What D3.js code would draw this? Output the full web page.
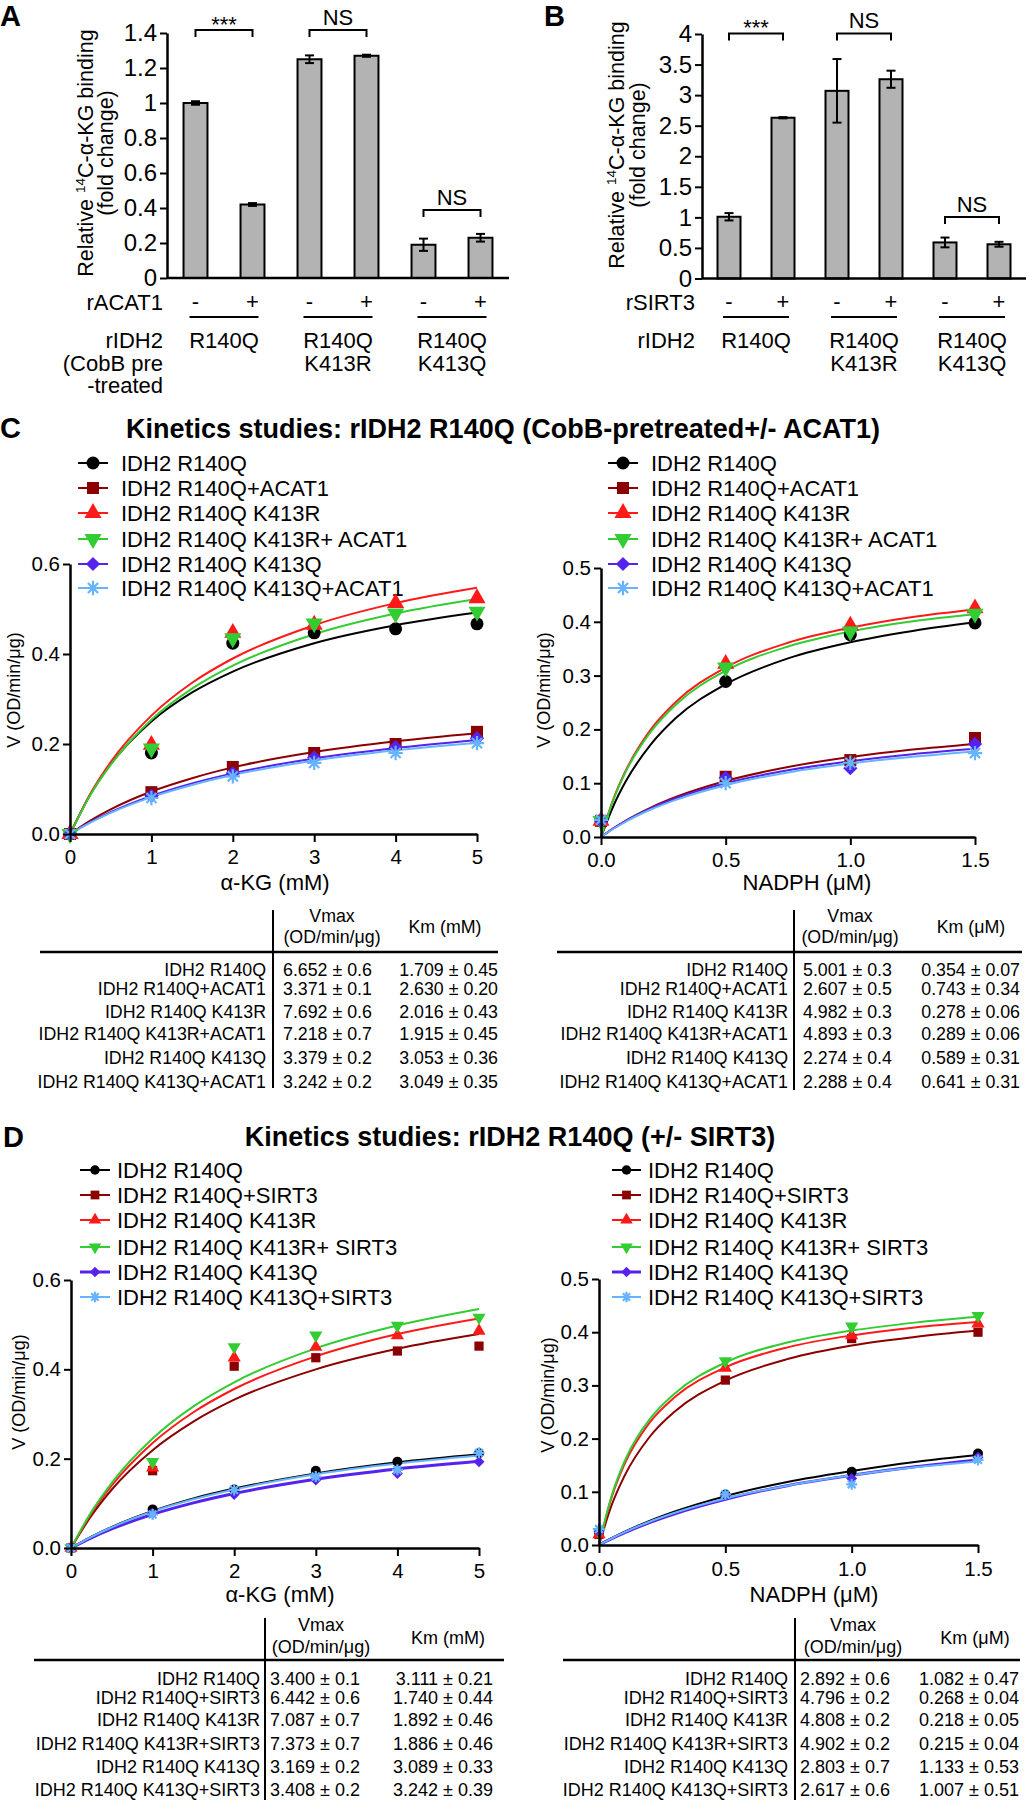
<!DOCTYPE html>
<html><head><meta charset="utf-8">
<script src="https://cdn.jsdelivr.net/npm/d3@7"></script>
<style>body{margin:0;background:#fff}svg{display:block;font-family:Arial,"Liberation Sans",Helvetica,sans-serif}</style>
</head><body><svg id="fig" width="1027" height="1800"></svg>
<script>
// ---------------- DATA ----------------
const barCats = ["R140Q-","R140Q+","K413R-","K413R+","K413Q-","K413Q+"];
const barSigns = ["-","+","-","+","-","+"];
const barGroupLabels = [["R140Q"],["R140Q","K413R"],["R140Q","K413Q"]];
const valsA = [1.00, 0.42, 1.25, 1.27, 0.19, 0.23];
const errA  = [0.01, 0.008, 0.022, 0.006, 0.035, 0.022];
const valsB = [1.01, 2.63, 3.07, 3.26, 0.59, 0.56];
const errB  = [0.06, 0.01, 0.52, 0.14, 0.08, 0.04];
const yTicksA = [0,0.2,0.4,0.6,0.8,1.0,1.2,1.4];
const yTickLabelsA = ["0","0.2","0.4","0.6","0.8","1","1.2","1.4"];
const yTicksB = [0,0.5,1,1.5,2,2.5,3,3.5,4];
const yTickLabelsB = ["0","0.5","1","1.5","2","2.5","3","3.5","4"];
const sigPairs = [[0,1],[2,3],[4,5]];
const sigTexts = ["***","NS","NS"];
const sigLevelsA = [1.417, 1.417, 0.389];
const sigLevelsB = [4.01, 4.01, 1.005];

const seriesC = ["IDH2 R140Q","IDH2 R140Q+ACAT1","IDH2 R140Q K413R","IDH2 R140Q K413R+ ACAT1","IDH2 R140Q K413Q","IDH2 R140Q K413Q+ACAT1"];
const seriesD = ["IDH2 R140Q","IDH2 R140Q+SIRT3","IDH2 R140Q K413R","IDH2 R140Q K413R+ SIRT3","IDH2 R140Q K413Q","IDH2 R140Q K413Q+SIRT3"];
const seriesColors = ["#000000","#8b0000","#ff1a1a","#33cc33","#5522ee","#66b3ff"];
const seriesMarkers = ["circle","square","tri","tridown","diamond","star"];

const kgX = [0,1,2,3,4,5];
const kgTicks = [0,1,2,3,4,5];
const kgTickLabels = ["0","1","2","3","4","5"];
const nadX = [0,0.5,1,1.5];
const nadTicks = [0,0.5,1,1.5];
const nadTickLabels = ["0.0","0.5","1.0","1.5"];
const kgCurveX = [0,0.25,0.5,1,1.5,2,3,4,5];
const nadCurveX = [0,0.05,0.1,0.2,0.3,0.5,0.75,1,1.25,1.5];
const vTicks6 = [0,0.2,0.4,0.6];
const vTickLabels6 = ["0.0","0.2","0.4","0.6"];
const vTicks5 = [0,0.1,0.2,0.3,0.4,0.5];
const vTickLabels5 = ["0.0","0.1","0.2","0.3","0.4","0.5"];

// Panel C, alpha-KG: measured points
const cKgPts = [
  [0, 0.18, 0.424, 0.447, 0.456, 0.467],
  [0, 0.093, 0.149, 0.18, 0.2, 0.227],
  [0, 0.198, 0.447, 0.465, 0.513, 0.524],
  [0, 0.19, 0.435, 0.468, 0.49, 0.494],
  [0, 0.085, 0.135, 0.17, 0.193, 0.213],
  [0, 0.08, 0.128, 0.158, 0.18, 0.202]
];
// Panel C, alpha-KG: fitted curves
const cKgCurves = [
  [0, 0.0878, 0.155, 0.25, 0.3145, 0.361, 0.424, 0.464, 0.492],
  [0, 0.0298, 0.0548, 0.0944, 0.124, 0.148, 0.182, 0.206, 0.224],
  [0, 0.0893, 0.160, 0.263, 0.336, 0.390, 0.464, 0.513, 0.547],
  [0, 0.0866, 0.154, 0.254, 0.323, 0.374, 0.444, 0.490, 0.522],
  [0, 0.0262, 0.0485, 0.0846, 0.1125, 0.1347, 0.168, 0.191, 0.209],
  [0, 0.0254, 0.047, 0.082, 0.109, 0.131, 0.163, 0.186, 0.203]
];
// Panel C, NADPH
const cNadPts = [
  [0.03, 0.289, 0.376, 0.398],
  [0.03, 0.112, 0.143, 0.184],
  [0.03, 0.322, 0.393, 0.425],
  [0.03, 0.315, 0.382, 0.415],
  [0.03, 0.11, 0.128, 0.173],
  [0.032, 0.1, 0.138, 0.156]
];
const cNadCurves = [
  [0, 0.0581, 0.104, 0.172, 0.221, 0.284, 0.332, 0.362, 0.383, 0.399],
  [0, 0.0163, 0.0306, 0.0547, 0.0743, 0.104, 0.13, 0.1486, 0.1625, 0.173],
  [0, 0.0708, 0.124, 0.2, 0.251, 0.315, 0.361, 0.389, 0.409, 0.423],
  [0, 0.0694, 0.122, 0.196, 0.246, 0.309, 0.354, 0.382, 0.401, 0.414],
  [0, 0.016, 0.03, 0.0533, 0.072, 0.1, 0.124, 0.141, 0.154, 0.164],
  [0, 0.0153, 0.0287, 0.0511, 0.0691, 0.0963, 0.12, 0.1366, 0.149, 0.159]
];
// Panel D, alpha-KG
const dKgPts = [
  [0, 0.0864, 0.131, 0.173, 0.193, 0.212],
  [0, 0.173, 0.407, 0.426, 0.441, 0.452],
  [0, 0.18, 0.426, 0.45, 0.476, 0.486],
  [0, 0.193, 0.45, 0.476, 0.498, 0.516],
  [0, 0.078, 0.12, 0.152, 0.167, 0.193],
  [0, 0.075, 0.13, 0.16, 0.175, 0.213]
];
const dKgCurves = [
  [0, 0.0254, 0.0472, 0.0829, 0.111, 0.133, 0.167, 0.192, 0.21],
  [0, 0.0723, 0.131, 0.219, 0.283, 0.332, 0.4, 0.446, 0.479],
  [0, 0.0777, 0.140, 0.235, 0.304, 0.356, 0.429, 0.479, 0.514],
  [0, 0.0809, 0.146, 0.245, 0.317, 0.371, 0.447, 0.498, 0.535],
  [0, 0.0229, 0.0427, 0.0753, 0.101, 0.122, 0.154, 0.177, 0.194],
  [0, 0.025, 0.0465, 0.0817, 0.109, 0.131, 0.165, 0.189, 0.207]
];
// Panel D, NADPH
const dNadPts = [
  [0.025, 0.095, 0.1375, 0.172],
  [0.02, 0.31, 0.388, 0.40],
  [0.02, 0.333, 0.394, 0.416],
  [0.025, 0.346, 0.411, 0.431],
  [0.025, 0.093, 0.125, 0.165],
  [0.03, 0.095, 0.114, 0.16]
];
const dNadCurves = [
  [0, 0.0128, 0.0246, 0.0453, 0.063, 0.0918, 0.119, 0.139, 0.156, 0.169],
  [0, 0.0747, 0.129, 0.203, 0.251, 0.309, 0.350, 0.375, 0.391, 0.403],
  [0, 0.0896, 0.151, 0.230, 0.278, 0.334, 0.372, 0.394, 0.409, 0.419],
  [0, 0.0925, 0.156, 0.236, 0.285, 0.343, 0.381, 0.403, 0.418, 0.429],
  [0, 0.0119, 0.0228, 0.0421, 0.0587, 0.0859, 0.112, 0.131, 0.147, 0.16],
  [0, 0.0125, 0.0238, 0.0437, 0.0605, 0.0873, 0.112, 0.131, 0.146, 0.157]
];

// Tables
const tblNamesC = ["IDH2 R140Q","IDH2 R140Q+ACAT1","IDH2 R140Q K413R","IDH2 R140Q K413R+ACAT1","IDH2 R140Q K413Q","IDH2 R140Q K413Q+ACAT1"];
const tblNamesD = ["IDH2 R140Q","IDH2 R140Q+SIRT3","IDH2 R140Q K413R","IDH2 R140Q K413R+SIRT3","IDH2 R140Q K413Q","IDH2 R140Q K413Q+SIRT3"];
const cKgVmax = ["6.652 ± 0.6","3.371 ± 0.1","7.692 ± 0.6","7.218 ± 0.7","3.379 ± 0.2","3.242 ± 0.2"];
const cKgKm   = ["1.709 ± 0.45","2.630 ± 0.20","2.016 ± 0.43","1.915 ± 0.45","3.053 ± 0.36","3.049 ± 0.35"];
const cNadVmax = ["5.001 ± 0.3","2.607 ± 0.5","4.982 ± 0.3","4.893 ± 0.3","2.274 ± 0.4","2.288 ± 0.4"];
const cNadKm   = ["0.354 ± 0.07","0.743 ± 0.34","0.278 ± 0.06","0.289 ± 0.06","0.589 ± 0.31","0.641 ± 0.31"];
const dKgVmax = ["3.400 ± 0.1","6.442 ± 0.6","7.087 ± 0.7","7.373 ± 0.7","3.169 ± 0.2","3.408 ± 0.2"];
const dKgKm   = ["3.111 ± 0.21","1.740 ± 0.44","1.892 ± 0.46","1.886 ± 0.46","3.089 ± 0.33","3.242 ± 0.39"];
const dNadVmax = ["2.892 ± 0.6","4.796 ± 0.2","4.808 ± 0.2","4.902 ± 0.2","2.803 ± 0.7","2.617 ± 0.6"];
const dNadKm   = ["1.082 ± 0.47","0.268 ± 0.04","0.218 ± 0.05","0.215 ± 0.04","1.133 ± 0.53","1.007 ± 0.51"];

// ---------------- DRAWING ----------------
const FONT = 'Arial, "Liberation Sans", Helvetica, sans-serif';
const svg = d3.select("#fig");
svg.append("rect").attr("width",1027).attr("height",1800).attr("fill","#fff");

function txt(g, x, y, s, size, anchor, weight) {
  return g.append("text").attr("x",x).attr("y",y).attr("font-size",size)
    .attr("text-anchor",anchor||"start").attr("font-weight",weight||"normal")
    .attr("fill","#000").text(s);
}
function styleAxis(g, fs) {
  g.attr("font-family", FONT).attr("font-size", fs);
  g.select(".domain").attr("stroke","#000").attr("stroke-width",2.5);
  g.selectAll(".tick line").attr("stroke","#000").attr("stroke-width",2);
  g.selectAll(".tick text").attr("fill","#000");
}

// panel letters
txt(svg, 0, 26, "A", 29, "start", "bold");
txt(svg, 544, 26, "B", 29, "start", "bold");
txt(svg, 0, 438, "C", 29, "start", "bold");
txt(svg, 3, 1147, "D", 29, "start", "bold");

function barPanel(o) {
  const g = svg.append("g");
  const x = d3.scaleBand().domain(barCats).range([o.x0, o.x1]).paddingInner(o.pad).paddingOuter(o.pad/2);
  const y = d3.scaleLinear().domain([0, o.yMax]).range([o.yB, o.yT]);
  const cx = i => x(barCats[i]) + x.bandwidth()/2;
  g.selectAll("rect.bar").data(o.vals).enter().append("rect")
    .attr("x",(d,i)=>x(barCats[i])).attr("width",x.bandwidth())
    .attr("y",d=>y(d)).attr("height",d=>o.yB-y(d))
    .attr("fill","#b3b3b3").attr("stroke","#000").attr("stroke-width",2);
  o.vals.forEach((v,i)=>{
    const c = cx(i), e = o.errs[i];
    g.append("line").attr("x1",c).attr("x2",c).attr("y1",y(v-e)).attr("y2",y(v+e)).attr("stroke","#000").attr("stroke-width",2);
    [v-e, v+e].forEach(t=>g.append("line").attr("x1",c-4.5).attr("x2",c+4.5).attr("y1",y(t)).attr("y2",y(t)).attr("stroke","#000").attr("stroke-width",2));
  });
  const ya = g.append("g").attr("transform",`translate(${o.x0},0)`)
    .call(d3.axisLeft(y).tickValues(o.ticks).tickFormat((d,i)=>o.tickLabels[i]).tickSize(7).tickSizeOuter(0).tickPadding(3));
  styleAxis(ya, 24);
  g.append("line").attr("x1",o.x0).attr("x2",o.x1).attr("y1",o.yB).attr("y2",o.yB).attr("stroke","#000").attr("stroke-width",2.5);
  // significance brackets
  sigPairs.forEach((p,k)=>{
    const yy = y(o.sigLevels[k]), a = cx(p[0]), b = cx(p[1]);
    g.append("path").attr("d",`M${a},${yy+7}V${yy}H${b}V${yy+7}`).attr("fill","none").attr("stroke","#000").attr("stroke-width",2);
    const isStar = sigTexts[k]==="***";
    txt(g, (a+b)/2, isStar ? yy+2 : yy-5, sigTexts[k], 22, "middle");
  });
  // y label
  const yl = g.append("text").attr("transform",`translate(${o.ylX1},${o.ylY}) rotate(-90)`).attr("text-anchor","middle").attr("font-size",21.5);
  yl.append("tspan").text("Relative ");
  yl.append("tspan").attr("font-size",13.5).attr("dy",-8).text("14");
  yl.append("tspan").attr("dy",8).text("C-\u03b1-KG binding");
  g.append("text").attr("transform",`translate(${o.ylX2},${o.ylY}) rotate(-90)`).attr("text-anchor","middle").attr("font-size",21.5).text("(fold change)");
  // treatment row
  txt(g, o.labX, 310, o.treat, 22, "end");
  barSigns.forEach((s,i)=>txt(g, cx(i), 309, s, 22, "middle"));
  sigPairs.forEach((p,k)=>{
    const a = cx(p[0]), b = cx(p[1]);
    g.append("line").attr("x1",a-6).attr("x2",b+6).attr("y1",317).attr("y2",317).attr("stroke","#000").attr("stroke-width",2.2);
    barGroupLabels[k].forEach((s,j)=>txt(g,(a+b)/2, 348 + j*22.5, s, 22, "middle"));
  });
  o.rowLabels.forEach((s,j)=>txt(g, o.labX, 348 + j*22.5, s, 22, "end"));
}

barPanel({x0:167, x1:509, yT:33, yB:278, yMax:1.4, pad:0.58, vals:valsA, errs:errA,
  ticks:yTicksA, tickLabels:yTickLabelsA, sigLevels:sigLevelsA, ylX1:93, ylX2:113, ylY:153,
  labX:163, treat:"rACAT1", rowLabels:["rIDH2","(CobB pre","-treated"]});
barPanel({x0:702, x1:1026, yT:34, yB:278.5, yMax:4, pad:0.574, vals:valsB, errs:errB,
  ticks:yTicksB, tickLabels:yTickLabelsB, sigLevels:sigLevelsB, ylX1:624, ylX2:645, ylY:145,
  labX:695, treat:"rSIRT3", rowLabels:["rIDH2"]});

// titles
txt(svg, 503, 438, "Kinetics studies: rIDH2 R140Q (CobB-pretreated+/- ACAT1)", 27, "middle", "bold");
txt(svg, 510, 1146, "Kinetics studies: rIDH2 R140Q (+/- SIRT3)", 27, "middle", "bold");

function drawMarker(g, type, cx, cy, s, color) {
  if (type === "star") {
    const r = s*0.55, q = r*0.7071;
    g.append("path").attr("d",`M${cx},${cy-r}V${cy+r}M${cx-r},${cy}H${cx+r}M${cx-q},${cy-q}L${cx+q},${cy+q}M${cx-q},${cy+q}L${cx+q},${cy-q}`)
      .attr("stroke",color).attr("stroke-width",2.2).attr("fill","none");
    return;
  }
  const sym = {circle:d3.symbolCircle, square:d3.symbolSquare, tri:d3.symbolTriangle, tridown:d3.symbolTriangle, diamond:d3.symbolSquare}[type];
  const area = {circle:Math.PI*s*s/4, square:s*s*0.85, tri:s*s*0.75, tridown:s*s*0.75, diamond:s*s*0.6}[type];
  const rot = type==="tridown" ? 180 : type==="diamond" ? 45 : 0;
  g.append("path").attr("d", d3.symbol(sym, area)()).attr("transform",`translate(${cx},${cy}) rotate(${rot})`).attr("fill",color);
}

function legend(o) {
  const g = svg.append("g");
  o.names.forEach((n,i)=>{
    const y = o.rows[i];
    g.append("line").attr("x1",o.l0).attr("x2",o.l1).attr("y1",y).attr("y2",y).attr("stroke",seriesColors[i]).attr("stroke-width", o.lw[i]);
    drawMarker(g, seriesMarkers[i], (o.l0+o.l1)/2, y, o.ms, seriesColors[i]);
    txt(g, o.tx, y+8, n, 22, "start");
  });
}

function kinetics(o) {
  const g = svg.append("g");
  const x = d3.scaleLinear().domain(o.xDom).range(o.xs);
  const y = d3.scaleLinear().domain(o.yDom).range(o.ys);
  const line = d3.line().x(d=>x(d[0])).y(d=>y(d[1])).curve(d3.curveMonotoneX);
  o.curves.forEach((c,i)=>{
    g.append("path").datum(o.curveX.map((xv,k)=>[xv,c[k]])).attr("d",line)
      .attr("fill","none").attr("stroke",seriesColors[i]).attr("stroke-width",o.lw[i]);
  });
  o.pts.forEach((p,i)=>{
    p.forEach((v,k)=>drawMarker(g, seriesMarkers[i], x(o.ptsX[k]), y(v), o.ms, seriesColors[i]));
  });
  const xa = g.append("g").attr("transform",`translate(0,${o.ys[0]})`)
    .call(d3.axisBottom(x).tickValues(o.xTicks).tickFormat((d,i)=>o.xLabels[i]).tickSize(8).tickSizeOuter(0).tickPadding(o.xPad));
  styleAxis(xa, 20.5);
  const ya = g.append("g").attr("transform",`translate(${o.xs[0]},0)`)
    .call(d3.axisLeft(y).tickValues(o.yTicks).tickFormat((d,i)=>o.yLabels[i]).tickSize(7).tickSizeOuter(0).tickPadding(3));
  styleAxis(ya, 20.5);
  txt(g, o.xtX, o.xtY, o.xTitle, 22, "middle");
  g.append("text").attr("transform",`translate(${o.ytX},${o.ytY}) rotate(-90)`).attr("text-anchor","middle")
    .attr("font-size",18).text("V (OD/min/\u03bcg)");
}

const lwC = [2,2,2,2,2,2];
const lwD = [2,2,2,2,3,2];
const rowsCLeg = [463,488,513,539,564,588];
const rowsDLeg = [1170,1195,1220,1247,1272,1297];
legend({names:seriesC, rows:rowsCLeg, l0:78, l1:108, tx:121, ms:13, lw:lwC});
legend({names:seriesC, rows:rowsCLeg, l0:608, l1:638, tx:651, ms:13, lw:lwC});
legend({names:seriesD, rows:rowsDLeg, l0:80, l1:110, tx:117, ms:9.5, lw:lwD});
legend({names:seriesD, rows:rowsDLeg, l0:612, l1:641, tx:648, ms:9.5, lw:lwD});

kinetics({xs:[70,477], ys:[834,564], xDom:[0,5], yDom:[0,0.6], xTicks:kgTicks, xLabels:kgTickLabels, xPad:7,
  yTicks:vTicks6, yLabels:vTickLabels6, ptsX:kgX, pts:cKgPts, curveX:kgCurveX, curves:cKgCurves,
  ms:13, lw:lwC, xTitle:"\u03b1-KG (mM)", xtX:275, xtY:890, ytX:20, ytY:690});
kinetics({xs:[601,975], ys:[837,568], xDom:[0,1.5], yDom:[0,0.5], xTicks:nadTicks, xLabels:nadTickLabels, xPad:7,
  yTicks:vTicks5, yLabels:vTickLabels5, ptsX:nadX, pts:cNadPts, curveX:nadCurveX, curves:cNadCurves,
  ms:13, lw:lwC, xTitle:"NADPH (\u03bcM)", xtX:807, xtY:890, ytX:550, ytY:690});
kinetics({xs:[71,479], ys:[1548,1280], xDom:[0,5], yDom:[0,0.6], xTicks:kgTicks, xLabels:kgTickLabels, xPad:7,
  yTicks:vTicks6, yLabels:vTickLabels6, ptsX:kgX, pts:dKgPts, curveX:kgCurveX, curves:dKgCurves,
  ms:10, lw:lwD, xTitle:"\u03b1-KG (mM)", xtX:280, xtY:1602, ytX:25, ytY:1392});
kinetics({xs:[599,978], ys:[1545,1279], xDom:[0,1.5], yDom:[0,0.5], xTicks:nadTicks, xLabels:nadTickLabels, xPad:8,
  yTicks:vTicks5, yLabels:vTickLabels5, ptsX:nadX, pts:dNadPts, curveX:nadCurveX, curves:dNadCurves,
  ms:10, lw:lwD, xTitle:"NADPH (\u03bcM)", xtX:814, xtY:1602, ytX:554, ytY:1395});

function table(o) {
  const g = svg.append("g");
  g.append("line").attr("x1",o.h0).attr("x2",o.h1).attr("y1",o.hy).attr("y2",o.hy).attr("stroke","#000").attr("stroke-width",2.5);
  g.append("line").attr("x1",o.vx).attr("x2",o.vx).attr("y1",o.v0).attr("y2",o.v1).attr("stroke","#000").attr("stroke-width",2);
  txt(g, o.vmHX, o.hY1+6, "Vmax", o.fs, "middle");
  txt(g, o.vmHX, o.hY2+6, "(OD/min/\u03bcg)", o.fs, "middle");
  txt(g, o.kmHX, o.kmHY+6, o.kmTitle, o.fs, "middle");
  o.names.forEach((n,i)=>{
    const y = o.rows[i] + 6.5;
    txt(g, o.labX, y, n, o.fs, "end");
    txt(g, o.vmX, y, o.vmax[i], o.fs, "start");
    txt(g, o.kmX, y, o.km[i], o.fs, "end");
  });
}
const rowsCT = [969,988,1011,1033,1057,1081];
const rowsDT = [1678,1697,1719,1743,1766,1789];
table({h0:40,h1:498,hy:952,vx:273,v0:910,v1:1088,rows:rowsCT,names:tblNamesC,vmax:cKgVmax,km:cKgKm,
  labX:266,vmX:283,kmX:498,vmHX:332,hY1:916,hY2:937,kmHX:445,kmHY:927,kmTitle:"Km (mM)",fs:17.8});
table({h0:557,h1:1022,hy:952,vx:794,v0:910,v1:1090,rows:rowsCT,names:tblNamesC,vmax:cNadVmax,km:cNadKm,
  labX:788,vmX:803,kmX:1020,vmHX:850,hY1:916,hY2:937,kmHX:971,kmHY:927,kmTitle:"Km (\u03bcM)",fs:17.8});
table({h0:34,h1:504,hy:1660,vx:265,v0:1618,v1:1800,rows:rowsDT,names:tblNamesD,vmax:dKgVmax,km:dKgKm,
  labX:260,vmX:270,kmX:493,vmHX:321,hY1:1625,hY2:1647,kmHX:448,kmHY:1638,kmTitle:"Km (mM)",fs:18});
table({h0:563,h1:1020,hy:1660,vx:795,v0:1618,v1:1800,rows:rowsDT,names:tblNamesD,vmax:dNadVmax,km:dNadKm,
  labX:788,vmX:800,kmX:1019,vmHX:853,hY1:1625,hY2:1647,kmHX:975,kmHY:1638,kmTitle:"Km (\u03bcM)",fs:18});
</script></body></html>
